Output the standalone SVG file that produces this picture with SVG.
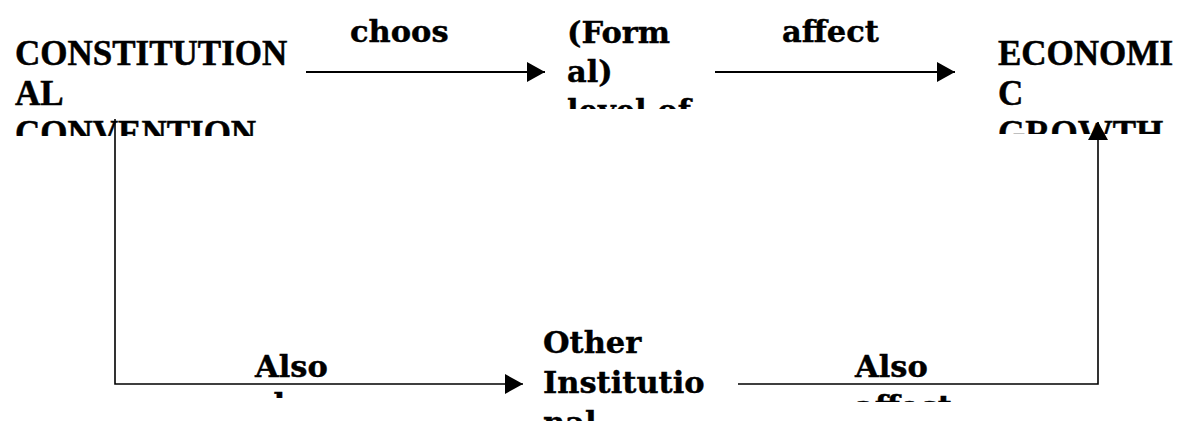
<svg xmlns="http://www.w3.org/2000/svg" width="1181" height="421" viewBox="0 0 1181 421">
<style>
.big{font-family:"Liberation Serif","Times New Roman",serif;font-weight:bold;font-size:35px;fill:#000;stroke:#000;stroke-width:0.5}
.lbl{font-family:"DejaVu Serif",serif;font-weight:bold;font-size:30.5px;fill:#000;stroke:#000;stroke-width:0.4}
.c{fill:none;stroke:#000}
</style>
<defs>
<marker id="ah" markerUnits="userSpaceOnUse" markerWidth="18" markerHeight="20" refX="18" refY="10" orient="auto">
<path d="M0,0 L18,10 L0,20 z" fill="#000"/>
</marker>
<clipPath id="cpA"><rect x="0" y="0" width="300" height="136"/></clipPath>
<clipPath id="cpB"><rect x="540" y="0" width="170" height="109"/></clipPath>
<clipPath id="cpC"><rect x="980" y="0" width="201" height="134"/></clipPath>
<clipPath id="cpD"><rect x="240" y="330" width="120" height="68"/></clipPath>
<clipPath id="cpE"><rect x="840" y="330" width="150" height="72"/></clipPath>
<clipPath id="cpF"><rect x="530" y="320" width="200" height="101"/></clipPath>
</defs>
<rect width="1181" height="421" fill="#fff"/>
<g id="constitutional-convention" clip-path="url(#cpA)">
<text class="big" x="15" y="65">CONSTITUTION</text>
<text class="big" x="15" y="105">AL</text>
<text class="big" x="15" y="145">CONVENTION</text>
</g>
<g id="formal-level" clip-path="url(#cpB)">
<text class="lbl" x="567" y="43">(Form</text>
<text class="lbl" x="567" y="82">al)</text>
<text class="lbl" x="567" y="121">level of</text>
</g>
<g id="economic-growth" clip-path="url(#cpC)">
<text class="big" x="998" y="65">ECONOMI</text>
<text class="big" x="998" y="105">C</text>
<text class="big" x="998" y="145">GROWTH</text>
</g>
<g id="other-institutional" clip-path="url(#cpF)">
<text class="lbl" x="543" y="353">Other</text>
<text class="lbl" x="543" y="393">Institutio</text>
<text class="lbl" x="543" y="433">nal</text>
</g>
<g id="connectors">
<line class="c" x1="306" y1="72" x2="545" y2="72" stroke-width="2" marker-end="url(#ah)"/>
<line class="c" x1="715" y1="72" x2="955" y2="72" stroke-width="2" marker-end="url(#ah)"/>
<polyline class="c" points="115,119 115,384 523,384" stroke-width="1.6" marker-end="url(#ah)"/>
<polyline class="c" points="738,384 1098,384 1098,122" stroke-width="1.6" marker-end="url(#ah)"/>
</g>
<g id="labels">
<text class="lbl" x="350" y="42">choos</text>
<text class="lbl" x="782" y="42">affect</text>
<g clip-path="url(#cpD)">
<text class="lbl" x="255" y="377">Also</text>
<text class="lbl" x="255" y="415">choose</text>
</g>
<g clip-path="url(#cpE)">
<text class="lbl" x="855" y="377">Also</text>
<text class="lbl" x="855" y="417">affect</text>
</g>
</g>
</svg>
